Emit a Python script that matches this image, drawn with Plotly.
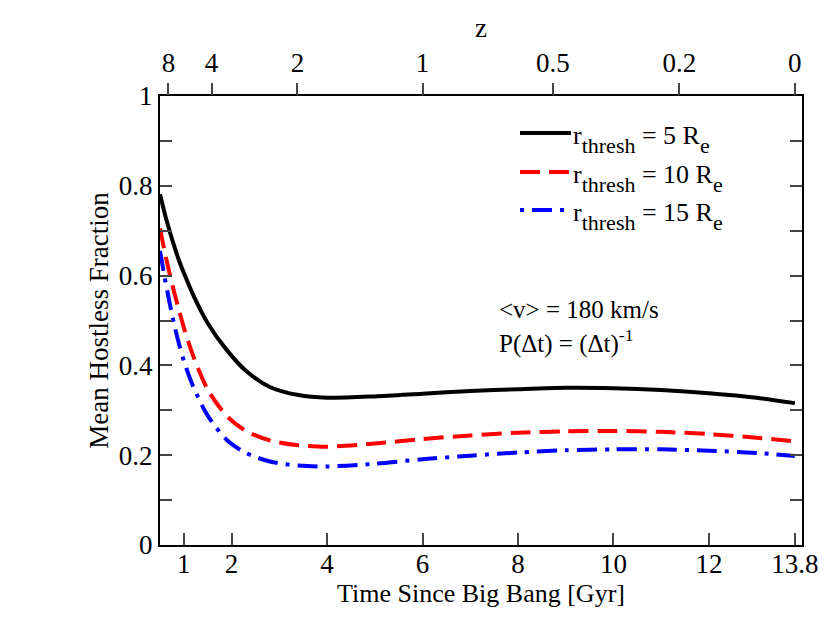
import plotly.graph_objects as go

# Data
t_gyr = [0.5, 0.6, 0.7, 0.8, 0.9, 1.0, 1.2, 1.5, 1.9, 2.3, 2.8, 3.4, 4.0, 5.0, 6.0, 7.0,
         8.0, 9.0, 10.0, 11.0, 12.0, 13.0, 13.8]
frac_5re = [0.781, 0.738, 0.700, 0.665, 0.633, 0.606, 0.556, 0.494, 0.434, 0.388, 0.352, 0.334,
            0.328, 0.331, 0.337, 0.343, 0.347, 0.350, 0.349, 0.345, 0.338, 0.328, 0.316]
frac_10re = [0.705, 0.652, 0.605, 0.562, 0.522, 0.484, 0.420, 0.346, 0.287, 0.254, 0.233, 0.222,
             0.219, 0.226, 0.236, 0.244, 0.250, 0.253, 0.254, 0.252, 0.247, 0.239, 0.231]
frac_15re = [0.655, 0.595, 0.540, 0.490, 0.447, 0.410, 0.352, 0.288, 0.234, 0.205, 0.186, 0.177,
             0.175, 0.181, 0.191, 0.199, 0.206, 0.211, 0.213, 0.213, 0.210, 0.205, 0.198]

bottom_ticks = [1, 2, 4, 6, 8, 10, 12, 13.8]
bottom_labels = ["1", "2", "4", "6", "8", "10", "12", "13.8"]
z_tick_ages = [0.676, 1.58, 3.38, 6.0, 8.73, 11.38, 13.8]
z_labels = ["8", "4", "2", "1", "0.5", "0.2", "0"]

FONT = "Liberation Serif, Times New Roman, serif"
FS = 27

fig = go.Figure()
fig.add_trace(go.Scatter(x=t_gyr, y=frac_5re, mode="lines", line=dict(color="black", width=4, shape="spline", smoothing=0.8), showlegend=False))
fig.add_trace(go.Scatter(x=t_gyr, y=frac_10re, mode="lines", line=dict(color="#ff0000", width=4, dash="20px,9px", shape="spline", smoothing=0.8), showlegend=False))
fig.add_trace(go.Scatter(x=t_gyr, y=frac_15re, mode="lines", line=dict(color="#0000ff", width=4, dash="20px,8px,4px,8px", shape="spline", smoothing=0.8), showlegend=False))
# dummy trace to activate top axis
fig.add_trace(go.Scatter(x=[t_gyr[0]], y=[frac_5re[0]], xaxis="x2", mode="markers", marker=dict(opacity=0), showlegend=False, hoverinfo="skip"))

XR = [0.5, 13.95]
fig.update_layout(
    width=830, height=642,
    margin=dict(l=152, r=36, t=88, b=105),
    paper_bgcolor="white", plot_bgcolor="white",
    font=dict(family=FONT, size=FS, color="black"),
    xaxis=dict(range=XR, tickvals=bottom_ticks, ticktext=bottom_labels, ticks="inside", ticklen=12,
               tickwidth=1.5, showline=True, linewidth=2, linecolor="black", mirror=True,
               showgrid=False, zeroline=False, ticklabelstandoff=-6,
               title=dict(text="Time Since Big Bang [Gyr]", standoff=0, font=dict(size=26))),
    xaxis2=dict(range=XR, overlaying="x", side="top", tickvals=z_tick_ages, ticktext=z_labels,
                ticks="outside", ticklen=12, tickwidth=1.5, showgrid=False, zeroline=False,
                showline=False,
                title=dict(text="z", standoff=2, font=dict(size=27))),
    yaxis=dict(range=[0, 1], tickvals=[0, 0.2, 0.4, 0.6, 0.8, 1], ticktext=["0", "0.2", "0.4", "0.6", "0.8", "1"],
               ticks="inside", ticklen=12, tickwidth=1.5,
               minor=dict(dtick=0.1, ticks="inside", ticklen=6, tickwidth=1.5, showgrid=False),
               showline=True, linewidth=2, linecolor="black", mirror="allticks",
               showgrid=False, zeroline=False,
               title=dict(text="Mean Hostless Fraction", standoff=2, font=dict(size=27))),
)

def px(x):
    return (x - 160) / 642.0

def py(y):
    return (545 - y) / 449.0

SUB = "<sub><span style='font-size:22px;baseline-shift:-4px'>%s</span></sub>"
legend_rows = [
    (133, "black", "solid", "r" + SUB % "thresh" + " = 5 R" + SUB % "e"),
    (172, "#ff0000", "20px,9px", "r" + SUB % "thresh" + " = 10 R" + SUB % "e"),
    (210, "#0000ff", "4px,8px,20px,8px", "r" + SUB % "thresh" + " = 15 R" + SUB % "e"),
]
for yy, col, dash, txt in legend_rows:
    fig.add_shape(type="line", xref="paper", yref="paper", x0=px(520), x1=px(571), y0=py(yy), y1=py(yy),
                  line=dict(color=col, width=4, dash=dash))
    fig.add_annotation(xref="paper", yref="paper", x=px(571), y=py(yy + 6), text=txt, showarrow=False,
                       xanchor="left", yanchor="middle", font=dict(size=26, family=FONT))

fig.add_annotation(xref="paper", yref="paper", x=px(497), y=py(309), text="&lt;v&gt; = 180 km/s",
                   showarrow=False, xanchor="left", yanchor="middle", font=dict(size=25, family=FONT))
fig.add_annotation(xref="paper", yref="paper", x=px(497), y=py(341), text="P(Δt) = (Δt)<sup>-1</sup>",
                   showarrow=False, xanchor="left", yanchor="middle", font=dict(size=25, family=FONT))

fig.write_html("out.html")
